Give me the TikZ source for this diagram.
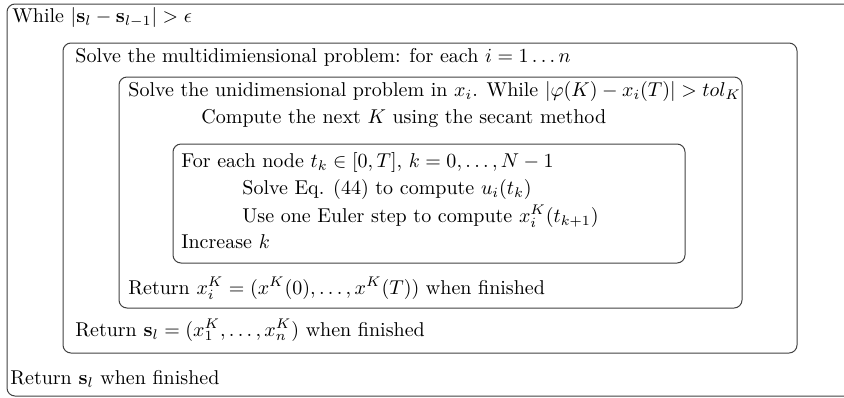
\documentclass[tikz,border=0pt]{standalone}
\usepackage{amsmath, amssymb}
\usepackage{xcolor}
\usepackage{tikz}

\begin{document}
\begin{tikzpicture}[x=0.5pt, y=-0.5pt,
    frame/.style={draw=black!75, line width=0.5pt, rounded corners=4pt},
    line/.style={anchor=base west, inner sep=0pt}]
  \useasboundingbox (0,0) rectangle (844,397);
  \clip (0,0) rectangle (844,397);

  % nested loops
  \draw[frame] (7,4) rectangle (860,396);
  \draw[frame] (63,43) rectangle (797,353);
  \draw[frame] (119,77) rectangle (742,308);
  \draw[frame] (173,144) rectangle (685,263);

  \node[line] (outer) at (12,22) {While $|\mathbf{s}_l-\mathbf{s}_{l-1}|>\epsilon$};
  \node[line] (multi) at (75,62) {Solve the multidimiensional problem: for each $i=1\ldots n$};
  \node[line] (uni) at (128,96) {Solve the unidimensional problem in $x_i$. While $|\varphi(K)-x_i(T)|>tol_K$};
  \node[line] (secant) at (201,123) {Compute the next $K$ using the secant method};
  \node[line] (nodes) at (181,167) {For each node $t_k\in[0,T]$, $k=0,\ldots,N-1$};
  \node[line] (solve) at (242,194) {Solve Eq. (44) to compute $u_i(t_k)$};
  \node[line] (euler) at (242,222) {Use one Euler step to compute $x_i^K(t_{k+1})$};
  \node[line] (incr) at (181,248) {Increase $k$};
  \node[line] (retx) at (128,294) {Return $x_i^K=(x^K(0),\ldots,x^K(T))$ when finished};
  \node[line] (rets) at (75,336) {Return $\mathbf{s}_l=(x_1^K,\ldots,x_n^K)$ when finished};
  \node[line] (retsl) at (10,384) {Return $\mathbf{s}_l$ when finished};
\end{tikzpicture}
\end{document}
